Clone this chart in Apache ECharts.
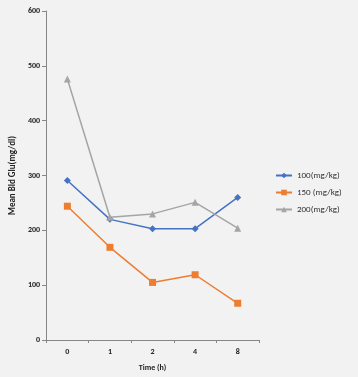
<!DOCTYPE html>
<html><head><meta charset="utf-8">
<script src="https://cdn.jsdelivr.net/npm/echarts@6/dist/echarts.min.js"></script>
<style>html,body{margin:0;padding:0;background:#f2f2f2}#c{width:358px;height:377px}</style>
</head><body><div id="c"></div>
<script>
const categories = ['0','1','2','4','8'];
const s100 = [291, 220, 203, 203, 260];
const s150 = [244, 169, 105, 119, 67];
const s200 = [476, 224, 230, 251, 204];
const seriesNames = ['100(mg/kg)', '150 (mg/kg)', '200(mg/kg)'];
const yTicks = {min: 0, max: 600, interval: 100};

const chart = echarts.init(document.getElementById('c'), null, {renderer: 'canvas'});
const font = 'Calibri, "Open Sans", "DejaVu Sans", sans-serif';
const axisColor = '#868686';
chart.setOption({
  backgroundColor: '#f2f2f2',
  animation: false,
  textStyle: {fontFamily: font},
  grid: {left: 44, top: 11, right: 99, bottom: 36, containLabel: false},
  legend: {
    orient: 'vertical', left: 275, top: 171, itemGap: 8, padding: 0,
    itemWidth: 16, itemHeight: 7,
    textStyle: {fontSize: 9, color: '#333', fontFamily: font},
    data: seriesNames
  },
  xAxis: {
    type: 'category', data: categories, boundaryGap: true,
    name: 'Time (h)', nameLocation: 'middle', nameGap: 24,
    nameTextStyle: {fontSize: 8, fontWeight: 'bold', color: '#222'},
    axisLine: {lineStyle: {color: axisColor}},
    axisTick: {show: true, length: 3, alignWithLabel: false, lineStyle: {color: axisColor}},
    axisLabel: {fontSize: 8, fontWeight: 'bold', color: '#222', margin: 8}
  },
  yAxis: {
    type: 'value', min: yTicks.min, max: yTicks.max, interval: yTicks.interval,
    name: 'Mean Bld Glu(mg/dl)', nameLocation: 'middle', nameGap: 27,
    nameTextStyle: {fontSize: 9, fontWeight: 'bold', color: '#222'},
    axisLine: {show: true, lineStyle: {color: axisColor}},
    axisTick: {show: true, length: 4, lineStyle: {color: axisColor}},
    splitLine: {show: false},
    axisLabel: {fontSize: 8, fontWeight: 'bold', color: '#222', margin: 6}
  },
  series: [
    {name: seriesNames[0], type: 'line', data: s100, symbol: 'diamond', symbolSize: 7,
     itemStyle: {color: '#4472c4'}, lineStyle: {width: 1.5, color: '#4472c4'}},
    {name: seriesNames[1], type: 'line', data: s150, symbol: 'rect', symbolSize: 7,
     itemStyle: {color: '#ed7d31'}, lineStyle: {width: 1.5, color: '#ed7d31'}},
    {name: seriesNames[2], type: 'line', data: s200, symbol: 'triangle', symbolSize: 7,
     itemStyle: {color: '#a5a5a5'}, lineStyle: {width: 1.5, color: '#a5a5a5'}}
  ]
});
</script></body></html>
